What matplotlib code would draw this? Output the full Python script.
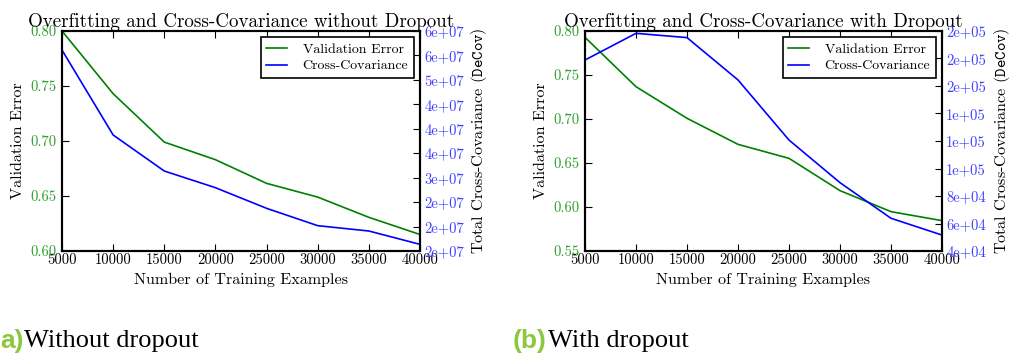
import matplotlib
matplotlib.use("Agg")
import matplotlib.pyplot as plt
from matplotlib.ticker import FormatStrFormatter, MultipleLocator

plt.rcParams['font.family'] = 'serif'
plt.rcParams['font.serif'] = ['cmr10']
plt.rcParams['mathtext.fontset'] = 'cm'
plt.rcParams['axes.unicode_minus'] = False
plt.rcParams['axes.formatter.use_mathtext'] = False

x_examples = [5000, 10000, 15000, 20000, 25000, 30000, 35000, 40000]

val_err_nodrop = [0.800, 0.743, 0.699, 0.683, 0.6615, 0.649, 0.6306, 0.615]
decov_nodrop = [5.61e7, 3.873e7, 3.136e7, 2.795e7, 2.373e7, 2.018e7, 1.909e7, 1.636e7]

val_err_drop = [0.7928, 0.7367, 0.7008, 0.6712, 0.6553, 0.6186, 0.5947, 0.5845]
decov_drop = [1.789e5, 1.983e5, 1.952e5, 1.644e5, 1.207e5, 0.897e5, 0.638e5, 0.516e5]

titles = ["Overfitting and Cross-Covariance without Dropout",
          "Overfitting and Cross-Covariance with Dropout"]
captions = [("a)", "Without dropout"), ("(b)", "With dropout")]

GREEN_LINE = '#008000'
BLUE_LINE = '#0000ff'
GREEN_TXT = '#2ca02c'
BLUE_TXT = '#4040ff'

fig = plt.figure(figsize=(10.12, 3.56), dpi=100)

W, H = 1012, 356
panels = [
    dict(left=62, right=420, ylim=(0.60, 0.80), ystep=0.05, y2lim=(1.5e7, 6e7), y2step=0.5e7,
         val=val_err_nodrop, dec=decov_nodrop),
    dict(left=585, right=942, ylim=(0.55, 0.80), ystep=0.05, y2lim=(4e4, 2e5), y2step=2e4,
         val=val_err_drop, dec=decov_drop),
]
top, bottom = 31, 251

for i, p in enumerate(panels):
    ax = fig.add_axes([p['left'] / W, 1 - bottom / H, (p['right'] - p['left']) / W, (bottom - top) / H])
    l1, = ax.plot(x_examples, p['val'], color=GREEN_LINE, lw=1.2, label='Validation Error')
    ax.set_xlim(5000, 40000)
    ax.set_ylim(*p['ylim'])
    ax.yaxis.set_major_locator(MultipleLocator(p['ystep']))
    ax.yaxis.set_major_formatter(FormatStrFormatter('%.2f'))
    ax.xaxis.set_major_locator(MultipleLocator(5000))
    ax.tick_params(direction='in', top=True, length=5, width=0.8, labelsize=10.5, pad=2)
    ax.tick_params(axis='y', labelcolor=GREEN_TXT, right=False, pad=4)
    ax.set_xlabel('Number of Training Examples', fontsize=11.6, labelpad=4)
    ax.set_ylabel('Validation Error', fontsize=11.6, labelpad=4)
    ax.set_title(titles[i], fontsize=13.7, pad=0)
    for s in ax.spines.values():
        s.set_linewidth(1.5)

    ax2 = ax.twinx()
    l2, = ax2.plot(x_examples, p['dec'], color=BLUE_LINE, lw=1.2, label='Cross-Covariance')
    ax2.set_ylim(*p['y2lim'])
    ax2.yaxis.set_major_locator(MultipleLocator(p['y2step']))
    ax2.yaxis.set_major_formatter(FormatStrFormatter('%.0e'))
    ax2.tick_params(direction='in', length=5, width=0.8, labelsize=10.5, labelcolor=BLUE_TXT, pad=3)
    ax2.set_ylabel(r'Total Cross-Covariance ($\mathtt{DeCov}$)', fontsize=11.6, labelpad=4)
    for s in ax2.spines.values():
        s.set_linewidth(1.5)

    leg = ax2.legend(handles=[l1, l2], loc='upper right', fontsize=10, fancybox=False,
                     framealpha=1, edgecolor='black', borderaxespad=0.45,
                     handlelength=1.5, handletextpad=1.1, borderpad=0.4, labelspacing=0.3)
    leg.get_frame().set_linewidth(1.2)

# captions
cap_pos = [0, 513]
for (lab, txt), xp in zip(captions, cap_pos):
    t1 = fig.text(xp / W, 1 - 341 / H, lab, fontsize=19, color='#8dc63f',
                  family='Liberation Sans', weight='bold', va='center', ha='left')
    fig.canvas.draw()
    bb = t1.get_window_extent()
    fig.text((bb.x1 + 1) / W, 1 - 341 / H, txt, fontsize=19, color='black',
             family='Liberation Serif', va='center', ha='left')

fig.savefig('out.png', dpi=100)
